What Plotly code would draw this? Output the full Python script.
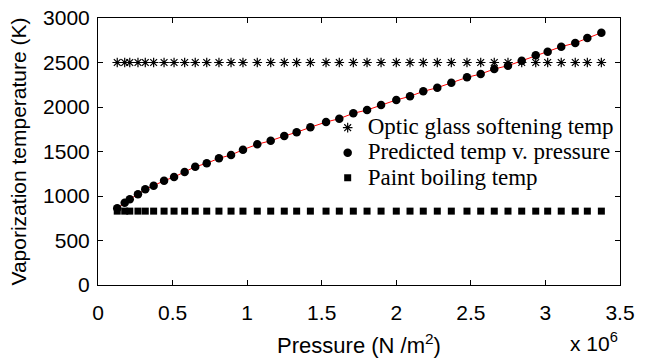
import plotly.graph_objects as go

# Pressure samples, in units of 10^6 N/m^2
pressure_e6 = [0.129, 0.179, 0.213, 0.268, 0.317, 0.373, 0.443, 0.510, 0.581, 0.652,
               0.729, 0.811, 0.892, 0.972, 1.068, 1.158, 1.249, 1.332, 1.424, 1.529,
               1.618, 1.712, 1.804, 1.898, 2.000, 2.092, 2.181, 2.275, 2.369, 2.474,
               2.566, 2.657, 2.749, 2.841, 2.935, 3.015, 3.106, 3.200, 3.281, 3.375]

# Predicted vaporization temperature at each pressure (K)
predicted_temp = [862, 925, 963, 1019, 1075, 1116, 1172, 1213, 1270, 1329,
                  1367, 1424, 1461, 1520, 1581, 1621, 1674, 1716, 1772, 1831,
                  1869, 1929, 1966, 2022, 2079, 2120, 2176, 2217, 2273, 2333,
                  2371, 2427, 2464, 2520, 2581, 2621, 2678, 2719, 2775, 2835]

# Reference temperatures (K)
GLASS_SOFTENING_K = 2500
PAINT_BOILING_K = 830
glass_temp = [GLASS_SOFTENING_K] * len(pressure_e6)
paint_temp = [PAINT_BOILING_K] * len(pressure_e6)

x_ticks = [0, 0.5, 1, 1.5, 2, 2.5, 3, 3.5]
y_ticks = [0, 500, 1000, 1500, 2000, 2500, 3000]

SANS = "Liberation Sans, Arial, sans-serif"
SERIF = "Liberation Serif, Times New Roman, serif"


def legend_label(text):
    # larger glyphs than the legend's own font, which sets the row pitch
    return f'<span style="font-size:23px">{text}</span>'


fig = go.Figure()

fig.add_trace(go.Scatter(
    x=pressure_e6, y=glass_temp, mode="markers",
    name=legend_label("Optic glass softening temp"),
    marker=dict(symbol="asterisk-open", size=8, color="black",
                line=dict(color="black", width=1.2)),
))
fig.add_trace(go.Scatter(
    x=pressure_e6, y=predicted_temp, mode="lines",
    line=dict(color="red", width=1), showlegend=False, hoverinfo="skip",
))
fig.add_trace(go.Scatter(
    x=pressure_e6, y=predicted_temp, mode="markers",
    name=legend_label("Predicted temp v. pressure"),
    marker=dict(symbol="circle", size=8.5, color="black"),
))
fig.add_trace(go.Scatter(
    x=pressure_e6, y=paint_temp, mode="markers",
    name=legend_label("Paint boiling temp"),
    marker=dict(symbol="square", size=7, color="black"),
))

axis_common = dict(
    showline=True, linecolor="black", linewidth=1, mirror="ticks",
    ticks="inside", ticklen=5, tickcolor="black", tickwidth=1,
    showgrid=False, zeroline=False, automargin=False,
    tickfont=dict(family=SANS, size=21, color="black"),
)

fig.update_xaxes(
    range=[0, 3.5], tickvals=x_ticks, ticklabelstandoff=9,
    title=dict(text="Pressure (N /m<sup>2</sup>)",
               font=dict(family=SANS, size=22, color="black"), standoff=14),
    **axis_common,
)
fig.update_yaxes(
    range=[0, 3000], tickvals=y_ticks, ticklabelstandoff=3,
    title=dict(text="Vaporization temperature (K)",
               font=dict(family=SANS, size=21, color="black"), standoff=10),
    **axis_common,
)

fig.add_annotation(
    text="x 10<sup>6</sup>", xref="paper", yref="paper",
    x=1.0, y=-0.27, xanchor="right", yanchor="bottom", showarrow=False,
    font=dict(family=SANS, size=21, color="black"),
)

fig.update_layout(
    width=652, height=360,
    margin=dict(l=98, r=32, t=18, b=75),
    paper_bgcolor="white", plot_bgcolor="white",
    legend=dict(x=0.44, y=0.655, xanchor="left", yanchor="top",
                bgcolor="rgba(0,0,0,0)", borderwidth=0,
                font=dict(family=SERIF, size=17, color="black"),
                itemwidth=30),
)

fig.write_html("out.html")
